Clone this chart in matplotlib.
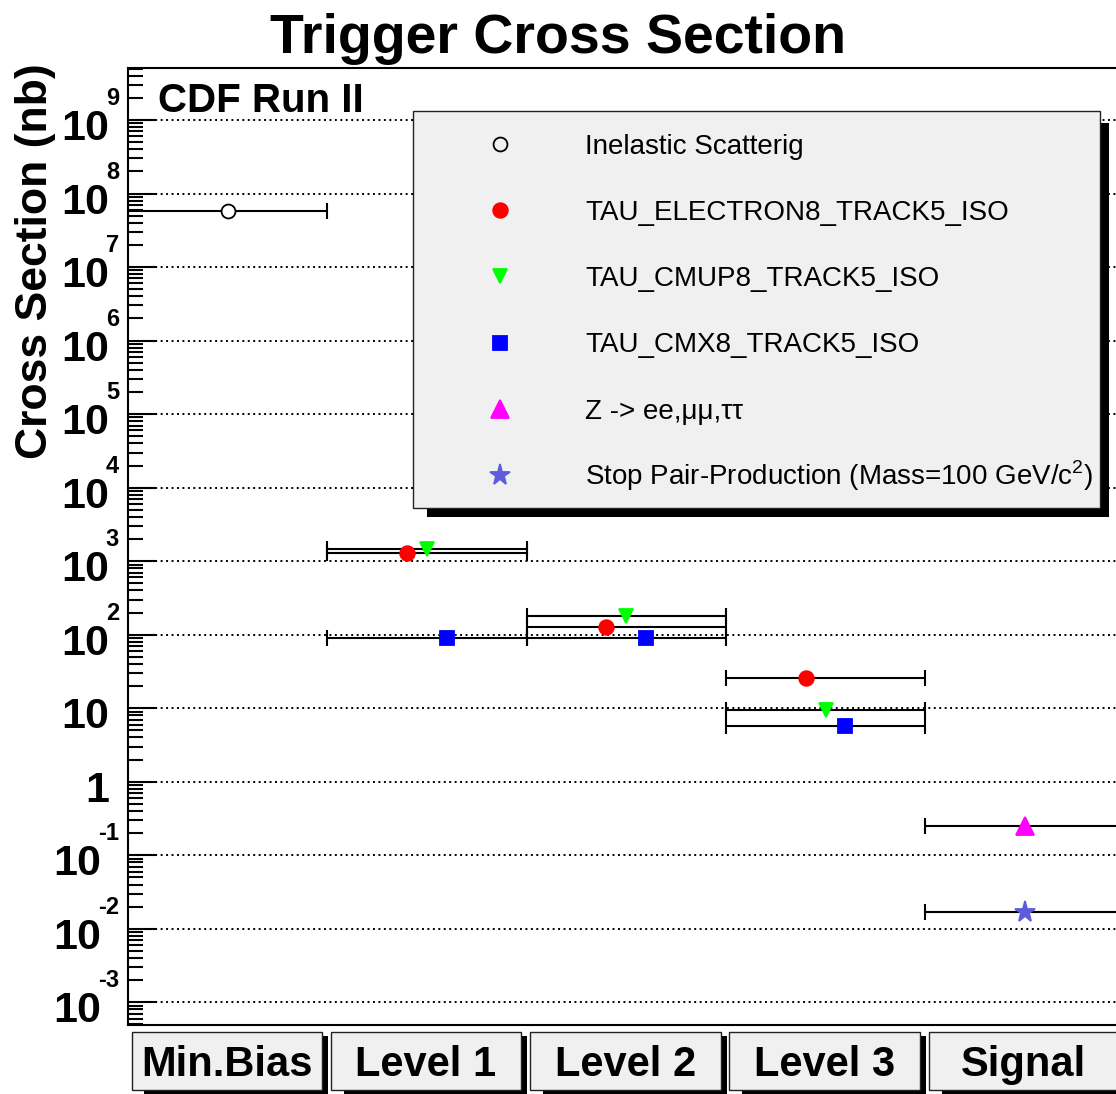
import numpy as np
import matplotlib
matplotlib.use('Agg')
import matplotlib.pyplot as plt
from matplotlib.lines import Line2D
from matplotlib.patches import Rectangle
from matplotlib.ticker import LogLocator, NullFormatter

W, H = 1116, 1094

categories = ['Min.Bias', 'Level 1', 'Level 2', 'Level 3', 'Signal']

# trigger cross sections in nb, bins index into categories
inelastic_bins = [0]
inelastic_xs = [5.8e7]
electron_bins = [1, 2, 3]
electron_xs = [1290, 128, 26.0]
cmup_bins = [1, 2, 3]
cmup_xs = [1470, 178, 9.5]
cmx_bins = [1, 2, 3]
cmx_xs = [90, 89, 5.7]
zll_bins = [4]
zll_xs = [0.25]
stop_bins = [4]
stop_xs = [0.0168]

labels = ['Inelastic Scatterig',
          'TAU_ELECTRON8_TRACK5_ISO',
          'TAU_CMUP8_TRACK5_ISO',
          'TAU_CMX8_TRACK5_ISO',
          'Z -> ee,\u03bc\u03bc,\u03c4\u03c4',
          'Stop Pair-Production (Mass=100 GeV/c$^{2}$)']

plt.rcParams['font.family'] = ['Liberation Sans', 'DejaVu Sans']
plt.rcParams['mathtext.fontset'] = 'custom'
plt.rcParams['mathtext.rm'] = 'Liberation Sans'
plt.rcParams['mathtext.bf'] = 'Liberation Sans:bold'


def fx(x):
    return x / W


def fy(y):
    return 1 - y / H


def box(fig, x0, y0, x1, y1, d, inset_r, inset_b, z):
    # grey pave with a ROOT style black shadow on the right and bottom
    fig.add_artist(Rectangle((fx(x1), fy(y1 + d)), d / W, (y1 + d - y0 - inset_r) / H,
                             transform=fig.transFigure, fc='black', ec='none', zorder=z))
    fig.add_artist(Rectangle((fx(x0 + inset_b), fy(y1 + d)), (x1 + d - x0 - inset_b) / W, d / H,
                             transform=fig.transFigure, fc='black', ec='none', zorder=z))
    fig.add_artist(Rectangle((fx(x0), fy(y1)), (x1 - x0) / W, (y1 - y0) / H,
                             transform=fig.transFigure, fc='#f0f0f0', ec='#222222',
                             lw=1.0, zorder=z + 0.1))


def main():
    fig = plt.figure(figsize=(W / 100, H / 100), dpi=100)
    ax = fig.add_axes([fx(128), fy(1025), (1124.5 - 128) / W, (1025 - 68.3) / H])
    ax.set_yscale('log')
    ax.set_ylim(10 ** -3.308, 10 ** 9.703)
    ax.set_xlim(0, len(categories))

    for s in ax.spines.values():
        s.set_linewidth(1.5)
    ax.yaxis.set_major_locator(LogLocator(base=10, numticks=30))
    ax.yaxis.set_minor_locator(LogLocator(base=10, subs=np.arange(2, 10), numticks=300))
    ax.yaxis.set_major_formatter(NullFormatter())
    ax.yaxis.set_minor_formatter(NullFormatter())
    ax.tick_params(axis='y', which='major', direction='in', length=20, width=1.5,
                   left=True, right=False, labelleft=False)
    ax.tick_params(axis='y', which='minor', direction='in', length=10.5, width=1.5,
                   left=True, right=False)
    ax.set_xticks([])
    ax.set_axisbelow(True)
    ax.grid(True, axis='y', which='major', color='black', lw=1.4, ls=(0, (1, 1.8)))

    series = [
        (inelastic_bins, inelastic_xs, 'o', 'white', 'black', 10.0, 0.0),
        (electron_bins, electron_xs, 'o', 'red', 'red', 10.5, -0.1),
        (cmup_bins, cmup_xs, 'v', '#00ff00', '#00ff00', 10.0, 0.0),
        (cmx_bins, cmx_xs, 's', 'blue', 'blue', 10.0, 0.1),
        (zll_bins, zll_xs, '^', 'magenta', 'magenta', 12.5, 0.0),
        (stop_bins, stop_xs, '*', '#5c5cdc', '#5c5cdc', 15.5, 0.0),
    ]
    for bins, xs, m, fc, ec, ms, off in series:
        xc = np.array(bins) + 0.5
        ax.errorbar(xc, xs, xerr=0.5, fmt='none', ecolor='black', elinewidth=1.5,
                    capsize=5.5, capthick=1.5, zorder=3)
        ax.plot(xc + off, xs, ls='none', marker=m, ms=ms, mfc=fc, mec=ec,
                mew=1.3, zorder=4)

    # decade labels drawn as 10 + small superscript
    rend = fig.canvas.get_renderer()
    bold = dict(weight='bold', va='baseline')
    for k in range(-3, 10):
        ypix = H - ax.transData.transform((0.5, 10.0 ** k))[1]
        if k == 0 or k == 1:
            fig.text(fx(109), fy(ypix + 20), str(10 ** k), ha='right', fontsize=31, **bold)
            continue
        sup = fig.text(fx(119), fy(ypix - 15), str(k), ha='right', fontsize=17, **bold)
        w = sup.get_window_extent(rend).width
        fig.text(fx(119 - w + 3), fy(ypix + 20), '10', ha='right', fontsize=31, **bold)

    fig.text(fx(558.5), fy(53), 'Trigger Cross Section', ha='center', va='baseline',
             fontsize=40, weight='bold')
    fig.text(fx(158), fy(112), 'CDF Run II', ha='left', va='baseline',
             fontsize=29, weight='bold')
    fig.text(fx(47), fy(261.5), 'Cross Section (nb)', rotation=90, rotation_mode='anchor',
             ha='center', va='baseline', fontsize=32, weight='bold')

    # legend pave
    box(fig, 413, 110.7, 1100, 507.7, 9, 12, 14, 10)
    for i, (bins, xs, m, fc, ec, ms, off) in enumerate(series):
        ey = 143.6 + i * 66.3
        fig.add_artist(Line2D([fx(500)], [fy(ey)], transform=fig.transFigure, ls='none',
                              marker=m, ms=ms, mfc='none' if fc == 'white' else fc,
                              mec=ec, mew=1.3, zorder=12))
        fig.text(fx(585), fy(ey + 10), labels[i], ha='left', va='baseline',
                 fontsize=20, zorder=12)

    # category paves under the axis
    for i, name in enumerate(categories):
        x0 = ax.transData.transform((i, 1))[0]
        box(fig, x0 + 3.5, 1032, x0 + 194, 1090, 6, 4, 13, 10)
        fig.text(fx(x0 + 98.7), fy(1076), name, ha='center', va='baseline',
                 fontsize=30, weight='bold', zorder=12)

    fig.savefig('out.png', dpi=100)


if __name__ == "__main__":
    main()
